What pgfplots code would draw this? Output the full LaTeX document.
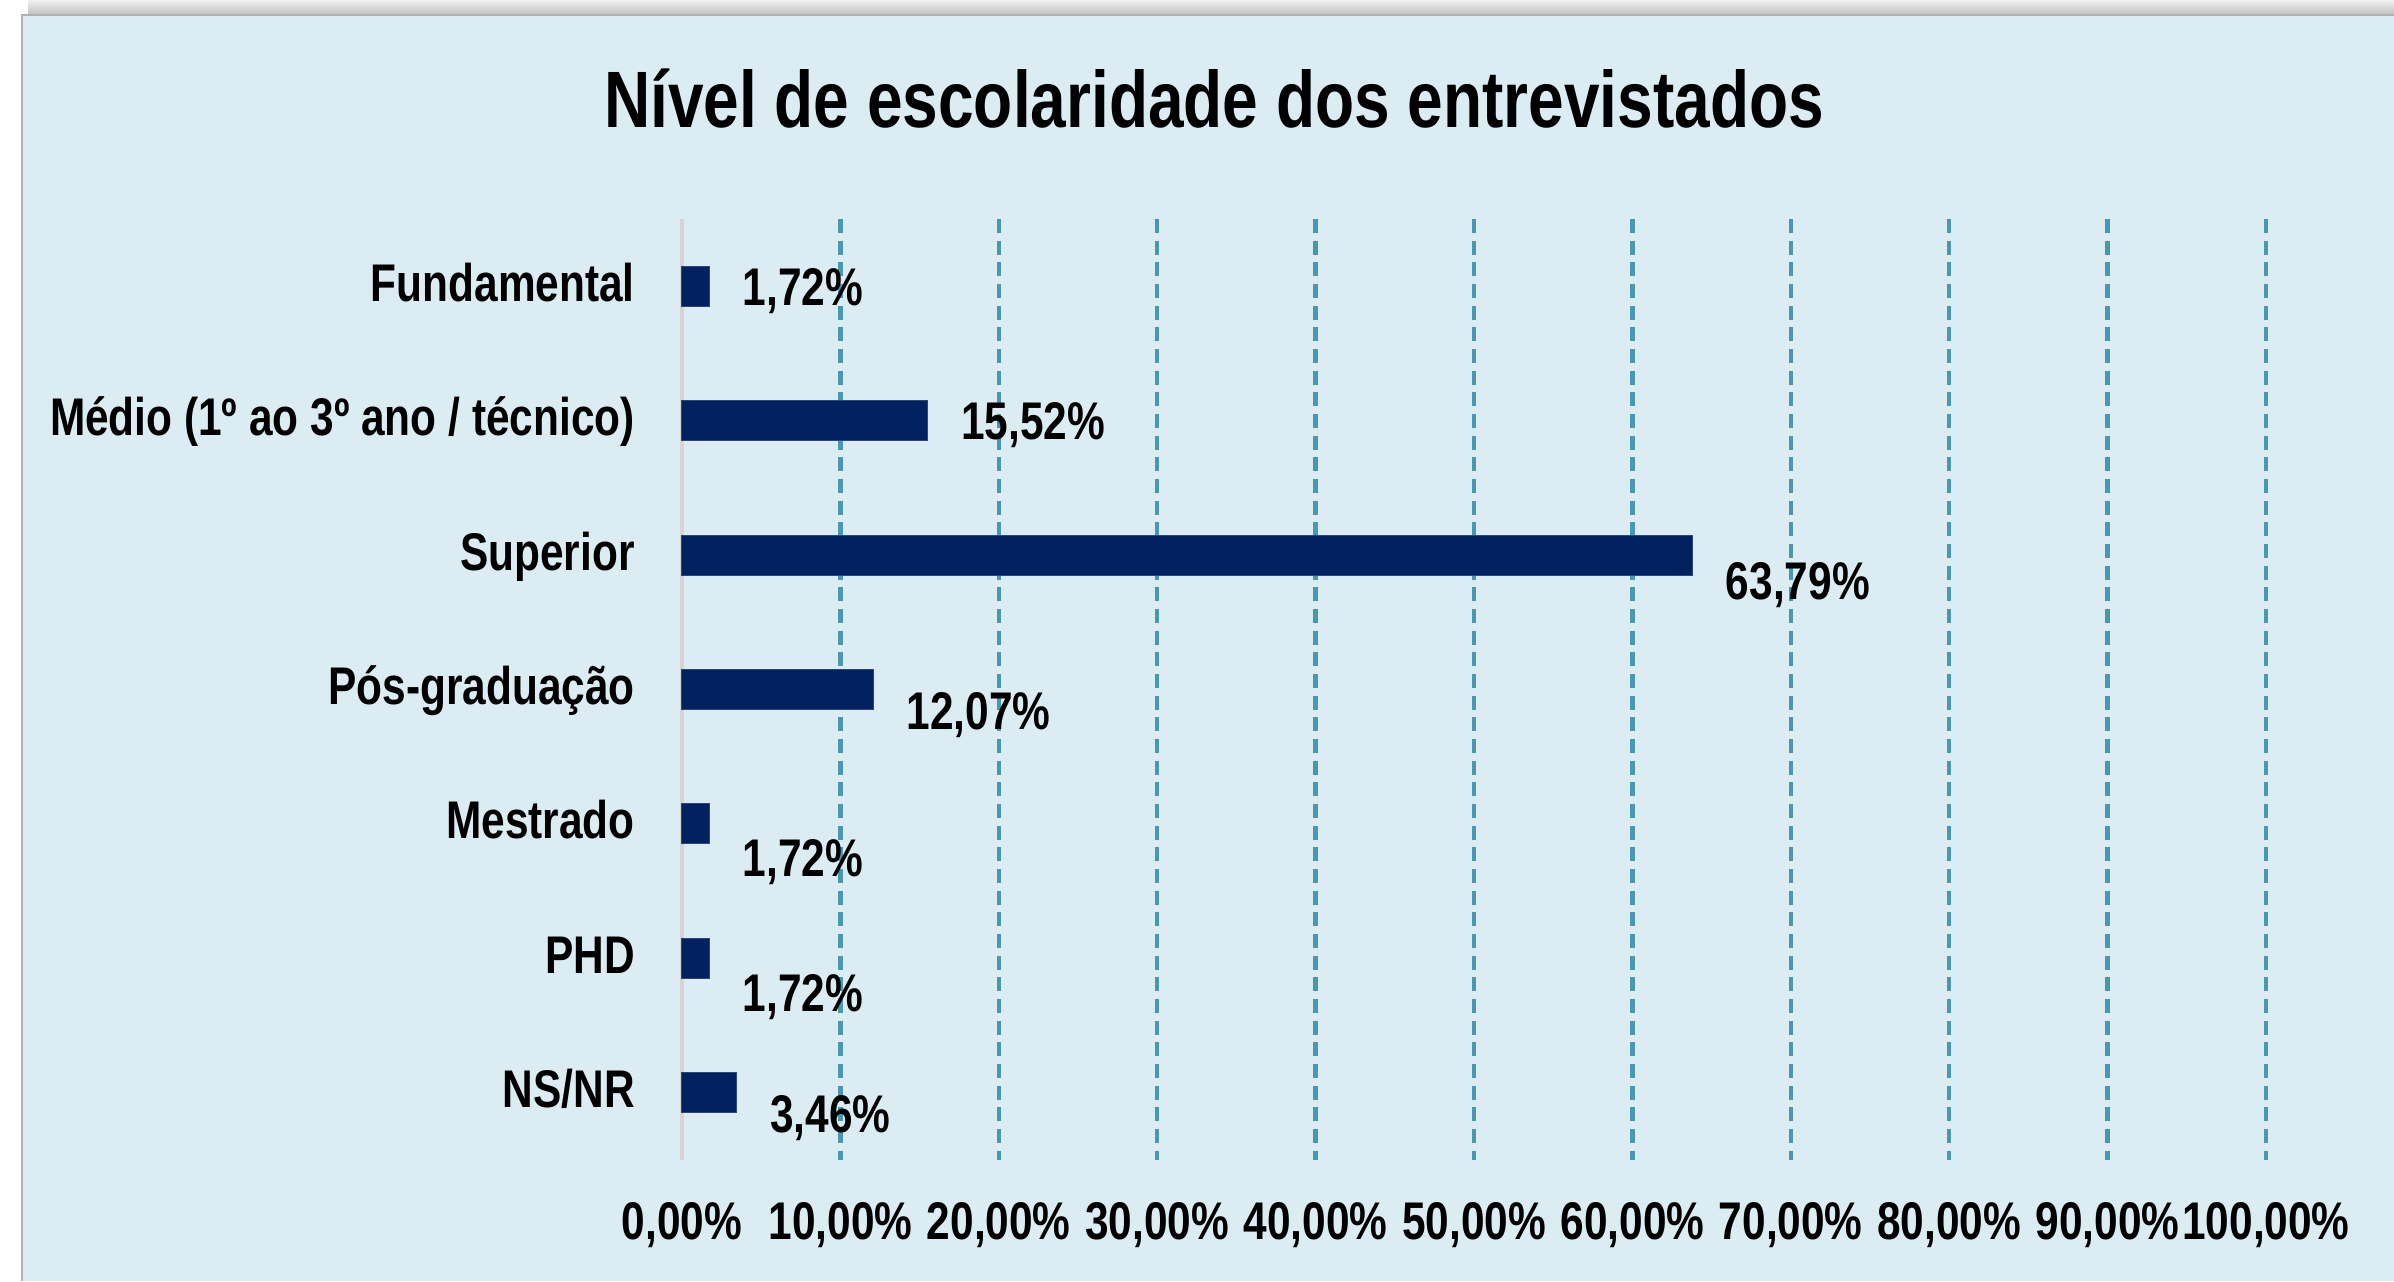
\documentclass[border=0pt]{standalone}
\usepackage{pgfplots}
\pgfplotsset{compat=1.18}
\usepackage{pgfplotstable}
\usepackage{fontspec}
\setmainfont{Liberation Sans}[FakeStretch=0.8]
\pgfkeys{/pgf/number format/assume math mode=true}
\definecolor{panel}{RGB}{219,237,243}
\definecolor{navy}{RGB}{0,32,96}
\definecolor{barline}{RGB}{40,70,130}
\definecolor{gridteal}{RGB}{72,152,178}
\definecolor{axgray}{RGB}{215,212,212}
\definecolor{bordergray}{RGB}{175,178,180}
\pgfplotstableread{
idx val dy
0 1.72 19
1 15.52 19
2 63.79 44
3 12.07 40
4 1.72 53
5 1.72 53
6 3.46 40
}\datatab
\begin{document}
\begin{tikzpicture}[x=0.3pt,y=0.3pt]
\useasboundingbox (0,0) rectangle (2394,1281);
\fill[white] (0,0) rectangle (2394,1281);
\shade[top color=gray!12, bottom color=gray!50] (28,1266) rectangle (2394,1281);
\fill[panel] (22,0) rectangle (2394,1266);
\draw[bordergray, line width=0.6pt] (22,0) -- (22,1266) -- (2394,1266);
\node[anchor=base, font=\fontsize{24}{28}\selectfont\bfseries, inner sep=0pt] at (1214,1153) {Nível de escolaridade dos entrevistados};
\begin{axis}[
  at={(204.6pt,36.3pt)}, anchor=south west,
  scale only axis, width=475.2pt, height=282.3pt,
  xmin=0, xmax=100, ymin=-0.5, ymax=6.5, y dir=reverse,
  axis line style={draw=none},
  major tick length=0pt,
  xtick={10,20,...,100},
  xticklabel={\pgfmathprintnumber[fixed,fixed zerofill,precision=2,use comma,assume math mode=true]{\tick}\%},
  extra x ticks={0},
  extra x tick style={grid style={solid, color=axgray, line width=1pt}},
  xmajorgrids,
  grid style={gridteal, line width=1.3pt, dash pattern=on 4.2pt off 2.3pt},
  ytick={0,...,6},
  yticklabels={Fundamental,{Médio (1º ao 3º ano / técnico)},Superior,Pós-graduação,Mestrado,PHD,NS/NR},
  ticklabel style={font=\fontsize{15.9}{19}\selectfont\bfseries, inner sep=0pt},
  xticklabel style={anchor=base, yshift=-23.7pt},
  yticklabel style={anchor=base east, xshift=-14pt, yshift=-4.5pt},
  xbar, bar width=12pt,
  clip=false,
]
\addplot[fill=navy, draw=barline, line width=0.3pt,
  point meta=x,
  visualization depends on={\thisrow{dy} \as \dy},
  nodes near coords={\pgfmathprintnumber[fixed,fixed zerofill,precision=2,use comma,assume math mode=true]{\pgfplotspointmeta}\%},
  every node near coord/.append style={anchor=base west, inner sep=0pt, xshift=9.9pt, yshift=-\dy*0.3pt, font=\fontsize{15.9}{19}\selectfont\bfseries, text=black},
] table[x=val, y=idx] {\datatab};
\end{axis}
\end{tikzpicture}
\end{document}
